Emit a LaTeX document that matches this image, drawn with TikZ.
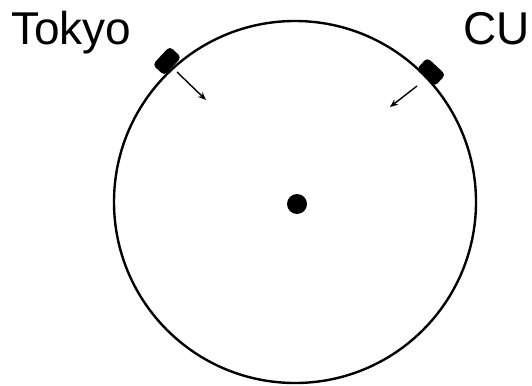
\documentclass[tikz,border=0pt]{standalone}
\usepackage{fontspec}
\setmainfont{Liberation Sans}
\usetikzlibrary{arrows.meta}
\tikzset{
  orbit/.style     = {circle, draw=black, line width=2.4pt, minimum size=362pt,
                      inner sep=0pt},
  core/.style      = {circle, fill=black, minimum size=20pt, inner sep=0pt},
  % ground station boxes sit on the rim
  station/.style   = {rounded corners=4pt, fill=black, minimum width=25pt,
                      minimum height=16pt, inner sep=0pt},
  sitelabel/.style = {font=\fontsize{46}{50}\selectfont, inner sep=0pt,
                      anchor=base west},
  beam/.style      = {draw=black, line width=1.4pt,
                      -{Stealth[length=8pt,width=6.5pt]}},
}

\begin{document}
\begin{tikzpicture}[x=1pt, y=-1pt]
    \useasboundingbox (0,0) rectangle (532,385);

    \node[orbit] (earth) at (295, 202) {};
    \node[core]  (centre) at (297, 204) {};

    \node[station, rotate=47]  (tokyobox) at (167, 61) {};
    \node[station, rotate=-43] (cubox)    at (431, 72) {};

    \node[sitelabel] (tokyo) at (11, 45)  {Tokyo};
    \node[sitelabel] (cu)    at (463, 45) {CU};

    \coordinate (tokyofrom) at (177, 72);
    \coordinate (tokyoto)   at (206, 100);
    \coordinate (cufrom)    at (417, 86);
    \coordinate (cuto)      at (390, 107);

    \draw[beam] (tokyofrom) -- (tokyoto);
    \draw[beam] (cufrom) -- (cuto);
  \end{tikzpicture}
\end{document}
